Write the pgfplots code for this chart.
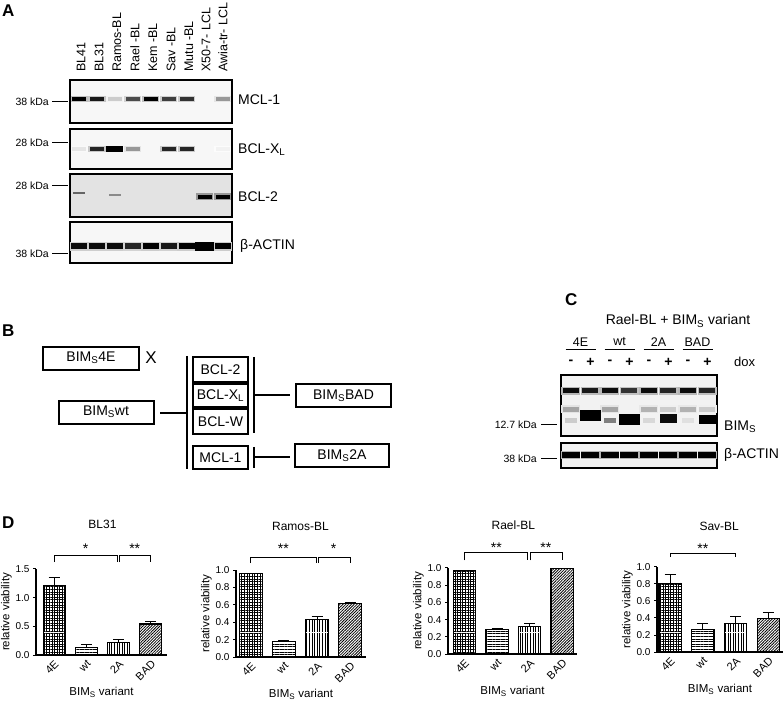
\documentclass[border=0pt]{standalone}
\usepackage{fontspec}
\setmainfont{Liberation Sans}
\usepackage{pgfplots}
\usepackage{pgfplotstable}
\pgfplotsset{compat=1.18}
\usetikzlibrary{patterns.meta}

\newcommand\fs[1]{\fontsize{#1}{#1}\selectfont}
% band marks for the blots: name, half width, half height
\newcommand\bandmark[3]{%
  \pgfdeclareplotmark{#1}{%
    \pgfsetcornersarced{\pgfqpoint{#3}{#3}}%
    \pgfpathrectanglecorners{\pgfqpoint{-#2}{-#3}}{\pgfqpoint{#2}{#3}}%
    \pgfusepathqfill}}
\bandmark{bandA}{7pt}{2.2pt}
\bandmark{haloA}{8.5pt}{3.4pt}
\bandmark{bigA}{8.5pt}{3.2pt}
\bandmark{thinA}{6pt}{1.3pt}
\bandmark{actA}{7.8pt}{2.8pt}
\bandmark{actbig}{9.5pt}{4.5pt}
\bandmark{cband}{8pt}{2.6pt}
\bandmark{chalo}{9.5pt}{4pt}
\bandmark{cbig}{10.5pt}{5.5pt}
\bandmark{cmed}{8.5pt}{4.5pt}
\bandmark{csmall}{6pt}{2.4pt}
\bandmark{cact}{9pt}{3pt}

% blots, panel A (x = lane, y = height in box, c = intensity)
\pgfplotstableread{
x y c
1 0.56 1.0
2 0.56 0.9
3 0.56 0.2
4 0.56 0.7
5 0.56 1.0
6 0.56 0.75
7 0.56 0.8
9 0.56 0.4
}\mclA
\pgfplotstableread{
x y c
1 0.50 0.1
2 0.50 0.85
4 0.50 0.4
6 0.50 0.85
7 0.50 0.85
9 0.50 0.05
}\bclxl
\pgfplotstableread{
x y c
3 0.50 1.0
}\bclxlbig
\pgfplotstableread{
x y c
1 0.56 0.6
3 0.51 0.45
}\bcltwothin
\pgfplotstableread{
x y c
8 0.47 1.0
9 0.47 1.0
}\bcltwo
\pgfplotstableread{
x y c
1 0.41 0.95
2 0.41 0.95
3 0.41 0.95
4 0.41 0.85
5 0.41 1.0
6 0.41 0.9
7 0.41 1.0
9 0.41 1.0
}\actinA
\pgfplotstableread{
x y c
8 0.41 1.0
}\actinAbig
% blot, panel C
\pgfplotstableread{
x y c
1 0.74 0.95
2 0.74 0.9
3 0.74 0.95
4 0.74 0.8
5 0.74 0.95
6 0.74 0.85
7 0.74 0.95
8 0.74 0.85
1 0.44 0.35
3 0.44 0.35
5 0.44 0.3
6 0.44 0.2
7 0.44 0.3
8 0.44 0.2
}\cbands
\pgfplotstableread{
x y c
1 0.25 0.2
3 0.26 0.5
5 0.26 0.15
7 0.26 0.12
}\cfaint
\pgfplotstableread{
x y c
2 0.33 1.0
4 0.27 1.0
}\cbig
\pgfplotstableread{
x y c
6 0.28 0.95
8 0.27 1.0
}\cmed
\pgfplotstableread{
x y c
1 0.52 1.0
2 0.52 1.0
3 0.52 1.0
4 0.52 1.0
5 0.52 1.0
6 0.52 1.0
7 0.52 1.0
8 0.52 1.0
}\cactin

\pgfplotsset{
  blot/.style={scale only axis, anchor=south west, xmin=0.5, ymin=0, ymax=1,
    xtick=\empty, ytick=\empty, axis line style={line width=1.1pt},
    colormap={blot}{color=(white) color=(black)},
    point meta min=0, point meta max=1},
  bands/.style={scatter, only marks, point meta=explicit,
    scatter/use mapped color={draw=none, fill=mapped color}},
  viab/.style={scale only axis, anchor=south west, ymin=0,
    axis x line*=bottom, axis y line*=left,
    axis line style={line width=1.1pt},
    xtick={0,1,2,3}, xticklabels={4E,wt,2A,BAD},
    xtick style={draw=none},
    ytick style={line width=1pt, black},
    tick align=outside, major tick length=3pt,
    /pgf/number format/assume math mode=true,
    yticklabel style={font=\fs{10}, /pgf/number format/.cd, fixed, fixed zerofill, precision=1},
    xticklabel style={rotate=45, anchor=north east, font=\fs{11}, inner sep=1pt},
    ylabel={relative viability}, xlabel={BIM\textsubscript{S} variant},
    label style={font=\fs{11.5}},
    ylabel shift=-3pt,
    xlabel style={yshift=-1pt},
    clip=false},
  barc/.style={ybar, bar shift=0pt, bar width=0.68, draw=black, line width=1.1pt,
    error bars/y dir=plus, error bars/y explicit,
    error bars/error bar style={line width=1pt, black},
    error bars/error mark options={rotate=90, mark size=5.5pt, line width=1pt, black}},
  bar4E/.style={pattern={Hatch[angle=0, distance=2.6pt, line width=1pt]}, barc},
  barwt/.style={pattern={Lines[angle=0, distance=2.6pt, line width=0.8pt]}, barc},
  bar2A/.style={pattern={Lines[angle=90, distance=2.6pt, line width=0.8pt]}, barc},
  barBAD/.style={pattern={Lines[angle=45, distance=2pt, line width=0.8pt]}, barc},
}
\tikzset{brk/.style={line width=0.9pt}, star/.style={font=\fs{14}, inner sep=0pt},
  ttl/.style={font=\fs{12}}}

\begin{document}
\begin{tikzpicture}[x=1pt,y=1pt]
\useasboundingbox (0,0) rectangle (784pt,704pt);

% ---------- panel A blots
\begin{axis}[blot, at={(70pt,581pt)}, width=162pt, height=43pt, xmax=9.5, axis background/.style={fill=gray!6}]
\addplot[bands, mark=haloA, point meta={0.25*\thisrow{c}}] table {\mclA};
\addplot[bands, mark=bandA, point meta=\thisrow{c}] table {\mclA};
\end{axis}
\begin{axis}[blot, at={(70pt,535pt)}, width=162pt, height=40pt, xmax=9.5, axis background/.style={fill=gray!6}]
\addplot[bands, mark=haloA, point meta={0.25*\thisrow{c}}] table {\bclxl};
\addplot[bands, mark=bandA, point meta=\thisrow{c}] table {\bclxl};
\addplot[bands, mark=haloA, point meta={0.35*\thisrow{c}}] table {\bclxlbig};
\addplot[bands, mark=bigA, point meta=\thisrow{c}] table {\bclxlbig};
\end{axis}
\begin{axis}[blot, at={(70pt,487pt)}, width=162pt, height=43pt, xmax=9.5, axis background/.style={fill=gray!22}]
\addplot[bands, mark=thinA, point meta=\thisrow{c}] table {\bcltwothin};
\addplot[bands, mark=haloA, point meta={0.4*\thisrow{c}}] table {\bcltwo};
\addplot[bands, mark=bandA, point meta=\thisrow{c}] table {\bcltwo};
\end{axis}
\begin{axis}[blot, at={(70pt,441pt)}, width=162pt, height=41pt, xmax=9.5, axis background/.style={fill=gray!6}]
\addplot[bands, mark=actbig, point meta={0.2*\thisrow{c}}] table {\actinA};
\addplot[bands, mark=actA, point meta=\thisrow{c}] table {\actinA};
\addplot[bands, mark=actbig, point meta=\thisrow{c}] table {\actinAbig};
\end{axis}

% ---------- panel C blots
\begin{axis}[blot, at={(561pt,268pt)}, width=156pt, height=61pt, xmax=8.5, axis background/.style={fill=gray!10}]
\addplot[bands, mark=chalo, point meta={0.3*\thisrow{c}}] table {\cbands};
\addplot[bands, mark=cband, point meta=\thisrow{c}] table {\cbands};
\addplot[bands, mark=csmall, point meta=\thisrow{c}] table {\cfaint};
\addplot[bands, mark=cbig, point meta=\thisrow{c}] table {\cbig};
\addplot[bands, mark=cmed, point meta=\thisrow{c}] table {\cmed};
\end{axis}
\begin{axis}[blot, at={(561pt,236pt)}, width=156pt, height=25pt, xmax=8.5, axis background/.style={fill=gray!10}]
\addplot[bands, mark=chalo, point meta={0.3*\thisrow{c}}] table {\cactin};
\addplot[bands, mark=cact, point meta=\thisrow{c}] table {\cactin};
\end{axis}

% ---------- panel D bar charts
\begin{axis}[viab, at={(36pt,49pt)}, width=131pt, height=86pt, xmin=-0.56, xmax=3.5, ymax=1.5, ytick={0,0.5,1,1.5}]
\addplot[bar4E] coordinates {(0,1.22) +- (0,0.14)};
\addplot[barwt] coordinates {(1,0.13) +- (0,0.05)};
\addplot[bar2A] coordinates {(2,0.22) +- (0,0.05)};
\addplot[barBAD] coordinates {(3,0.54) +- (0,0.05)};
\draw[brk] (axis cs:0,1.62) |- (axis cs:1.95,1.745) -- (axis cs:1.95,1.62);
\draw[brk] (axis cs:2.03,1.62) |- (axis cs:3,1.745) -- (axis cs:3,1.62);
\node[star] at (axis cs:0.98,1.86) {*};
\node[star] at (axis cs:2.5,1.86) {**};
\node[ttl] at (axis cs:1.5,2.27) {BL31};
\end{axis}

\begin{axis}[viab, at={(236pt,47pt)}, width=130pt, height=87pt, xmin=-0.45, xmax=3.48, ymax=1.0, ytick={0,0.2,...,1.0}]
\addplot[bar4E] coordinates {(0,0.955) +- (0,0.01)};
\addplot[barwt] coordinates {(1,0.18) +- (0,0.01)};
\addplot[bar2A] coordinates {(2,0.43) +- (0,0.04)};
\addplot[barBAD] coordinates {(3,0.61) +- (0,0.012)};
\draw[brk] (axis cs:0,1.08) |- (axis cs:1.97,1.148) -- (axis cs:1.97,1.08);
\draw[brk] (axis cs:2.04,1.08) |- (axis cs:3,1.148) -- (axis cs:3,1.08);
\node[star] at (axis cs:0.98,1.24) {**};
\node[star] at (axis cs:2.5,1.24) {*};
\node[ttl] at (axis cs:1.5,1.5) {Ramos-BL};
\end{axis}

\begin{axis}[viab, at={(448pt,50pt)}, width=129pt, height=86pt, xmin=-0.51, xmax=3.46, ymax=1.0, ytick={0,0.2,...,1.0}]
\addplot[bar4E] coordinates {(0,0.97) +- (0,0.005)};
\addplot[barwt] coordinates {(1,0.29) +- (0,0.01)};
\addplot[bar2A] coordinates {(2,0.32) +- (0,0.03)};
\addplot[barBAD] coordinates {(3,0.99) +- (0,0.005)};
\draw[brk] (axis cs:0,1.09) |- (axis cs:1.95,1.186) -- (axis cs:1.95,1.09);
\draw[brk] (axis cs:2.03,1.09) |- (axis cs:3,1.186) -- (axis cs:3,1.09);
\node[star] at (axis cs:0.98,1.235) {**};
\node[star] at (axis cs:2.5,1.235) {**};
\node[ttl] at (axis cs:1.5,1.5) {Rael-BL};
\end{axis}

\begin{axis}[viab, at={(657pt,52pt)}, width=126pt, height=85pt, xmin=-0.4, xmax=3.45, ymax=1.0, ytick={0,0.2,...,1.0}]
\addplot[bar4E] coordinates {(0,0.81) +- (0,0.1)};
\addplot[barwt] coordinates {(1,0.26) +- (0,0.07)};
\addplot[bar2A] coordinates {(2,0.34) +- (0,0.08)};
\addplot[barBAD] coordinates {(3,0.39) +- (0,0.08)};
\draw[brk] (axis cs:0,1.118) |- (axis cs:2,1.165) -- (axis cs:2,1.118);
\node[star] at (axis cs:1,1.22) {**};
\node[ttl] at (axis cs:1.5,1.48) {Sav-BL};
\end{axis}

% ---------- text, diagram and labels (y measured downward)
\begin{scope}[shift={(0,704)}, yscale=-1, every node/.style={inner sep=0pt}]
% panel letters
\node[anchor=north west, font=\fs{17}\bfseries] at (2,5) {A};
\node[anchor=north west, font=\fs{17}\bfseries] at (2,325) {B};
\node[anchor=north west, font=\fs{17}\bfseries] at (565,293) {C};
\node[anchor=north west, font=\fs{17}\bfseries] at (2,517) {D};

% panel A labels
\foreach \x/\t in {81/BL41, 99/BL31, 117/Ramos-BL, 135/Rael -BL, 153/Kem -BL, 171/Sav -BL, 189/Mutu -BL, 206/X50-7- LCL, 223/Awia-tr- LCL}
  \node[rotate=90, anchor=west, font=\fs{12.5}] at (\x,72) {\t};
\foreach \y/\t in {102/38, 143/28, 186/28, 254/38} {
  \node[anchor=east, font=\fs{10.5}] at (49,\y) {\t\ kDa};
  \draw[line width=1pt] (52,\y) -- (68,\y);
}
\node[anchor=west, font=\fs{14}] at (238,100) {MCL-1};
\node[anchor=west, font=\fs{14}] at (238,150) {BCL-X\textsubscript{L}};
\node[anchor=west, font=\fs{14}] at (238,197) {BCL-2};
\node[anchor=west, font=\fs{14}] at (240,246) {β-ACTIN};

% panel B diagram
\begin{scope}[line width=1.3pt]
\draw (43,347) rectangle (139,370);
\node[font=\fs{14}] at (91,358) {BIM\textsubscript{S}4E};
\node[font=\fs{17}] at (151,358) {X};
\draw (59,401) rectangle (154,424);
\node[font=\fs{14}] at (106,412) {BIM\textsubscript{S}wt};
\draw (160,413) -- (187,413);
\draw (187,356) -- (187,469);
\draw (193,357) rectangle (248,382);
\node[font=\fs{14}] at (220.5,369.5) {BCL-2};
\draw (193,384) rectangle (248,407);
\node[font=\fs{14}] at (220.5,395.5) {BCL-X\textsubscript{L}};
\draw (193,409) rectangle (248,434);
\node[font=\fs{14}] at (220.5,421.5) {BCL-W};
\draw (193,446) rectangle (248,469);
\node[font=\fs{14}] at (220.5,457.5) {MCL-1};
\draw (254,357) -- (254,433);
\draw (254,447) -- (254,468);
\draw (254,395) -- (290,395);
\draw (296,384) rectangle (391,407);
\node[font=\fs{14}] at (343.5,395.5) {BIM\textsubscript{S}BAD};
\draw (254,457) -- (290,457);
\draw (295,444) rectangle (389,467);
\node[font=\fs{14}] at (342,455.5) {BIM\textsubscript{S}2A};
\end{scope}

% panel C labels
\node[font=\fs{14}] at (678,321) {Rael-BL + BIM\textsubscript{S} variant};
\foreach \x/\t in {580.5/4E, 619.5/wt, 658.5/2A, 697.5/BAD} {
  \node[font=\fs{12.5}] at (\x,342) {\t};
  \draw[line width=1pt] (\x-15,350) -- (\x+15,350);
}
\foreach \x in {571,610,649,688} {
  \node[font=\fs{14}\bfseries] at (\x,362) {-};
  \node[font=\fs{14}\bfseries] at (\x+19.5,362) {+};
}
\node[anchor=west, font=\fs{13}] at (734,362) {dox};
\node[anchor=east, font=\fs{10.5}] at (537,425) {12.7 kDa};
\draw[line width=1pt] (541,425) -- (557,425);
\node[anchor=east, font=\fs{10.5}] at (537,459) {38 kDa};
\draw[line width=1pt] (541,459) -- (557,459);
\node[anchor=west, font=\fs{14}] at (724,427) {BIM\textsubscript{S}};
\node[anchor=west, font=\fs{14}] at (724,455) {β-ACTIN};
\end{scope}
\end{tikzpicture}
\end{document}
